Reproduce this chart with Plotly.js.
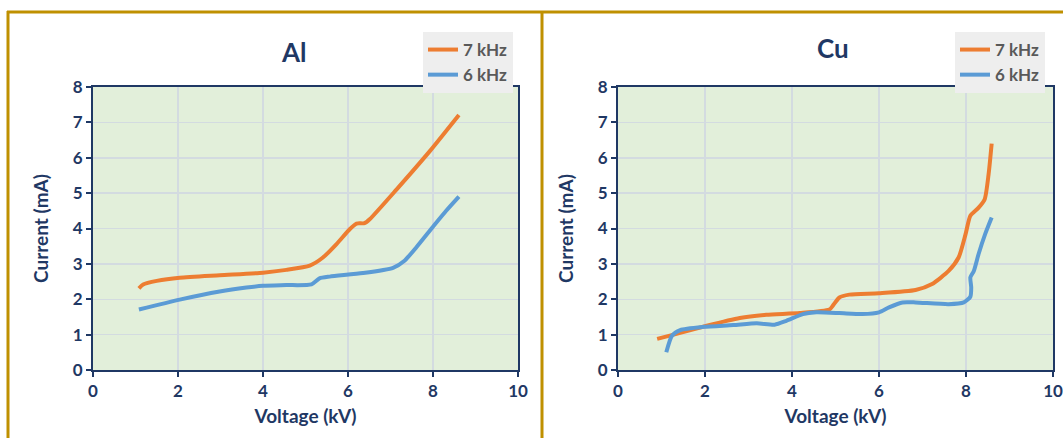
<!DOCTYPE html>
<html>
<head>
<meta charset="utf-8">
<script src="https://cdn.plot.ly/plotly-3.0.1.min.js"></script>
<style>html,body{margin:0;padding:0;background:#fff;}#chart{width:1063px;height:438px;}</style>
</head>
<body>
<div id="chart"></div>
<script>
// Al panel data
const al7_x = [1.08, 1.18, 1.5, 2.04, 2.98, 4.0, 4.55, 5.10, 5.41, 5.73, 6.04, 6.2, 6.39, 6.51, 7.14, 7.92, 8.61];
const al7_y = [2.31, 2.42, 2.52, 2.61, 2.68, 2.75, 2.83, 2.95, 3.18, 3.56, 3.98, 4.14, 4.15, 4.26, 5.10, 6.18, 7.21];
const al6_x = [1.08, 2.04, 2.98, 3.61, 4.0, 4.55, 5.14, 5.33, 5.57, 6.35, 7.06, 7.33, 7.61, 8.0, 8.31, 8.61];
const al6_y = [1.71, 1.99, 2.22, 2.33, 2.38, 2.40, 2.42, 2.59, 2.64, 2.74, 2.89, 3.09, 3.47, 4.05, 4.50, 4.90];
// Cu panel data
const cu7_x = [0.90, 1.28, 2.04, 2.80, 3.41, 4.18, 4.86, 4.94, 5.09, 5.32, 6.0, 6.84, 7.22, 7.60, 7.83, 7.99, 8.10, 8.29, 8.43, 8.52, 8.59];
const cu7_y = [0.88, 1.0, 1.25, 1.47, 1.56, 1.61, 1.71, 1.82, 2.05, 2.13, 2.17, 2.26, 2.43, 2.80, 3.18, 3.84, 4.36, 4.59, 4.83, 5.54, 6.40];
const cu6_x = [1.11, 1.24, 1.43, 1.97, 2.65, 3.19, 3.60, 3.87, 4.25, 4.56, 5.09, 5.62, 6.0, 6.23, 6.54, 6.84, 7.60, 7.95, 8.10, 8.12, 8.10, 8.18, 8.29, 8.44, 8.59];
const cu6_y = [0.50, 0.97, 1.13, 1.22, 1.27, 1.32, 1.28, 1.39, 1.58, 1.63, 1.61, 1.58, 1.63, 1.77, 1.91, 1.91, 1.86, 1.91, 2.07, 2.33, 2.62, 2.80, 3.28, 3.84, 4.31];

const seriesNames = ['7 kHz', '6 kHz'];
const panelTitles = ['Al', 'Cu'];
const xTitle = 'Voltage (kV)';
const yTitle = 'Current (mA)';

const ORANGE = '#ED7D31', BLUE = '#5B9BD5', NAVY = '#1F3864', GOLD = '#BF9000';
const FONT = 'Lato, "Open Sans", sans-serif';
const W = 1063, H = 438;
const px = v => v / W, py = v => 1 - v / H;

function line(x, y, name, color, xa, ya, leg) {
  return {x: x, y: y, name: name, type: 'scatter', mode: 'lines', xaxis: xa, yaxis: ya, legend: leg,
    line: {color: color, width: 4, shape: 'spline', smoothing: 0.6}, hoverinfo: 'skip'};
}

const data = [
  line(al7_x, al7_y, seriesNames[0], ORANGE, 'x', 'y', 'legend'),
  line(al6_x, al6_y, seriesNames[1], BLUE, 'x', 'y', 'legend'),
  line(cu7_x, cu7_y, seriesNames[0], ORANGE, 'x2', 'y2', 'legend2'),
  line(cu6_x, cu6_y, seriesNames[1], BLUE, 'x2', 'y2', 'legend2')
];

function xax(domain, anchor) {
  return {domain: domain, anchor: anchor, range: [0, 10], dtick: 2, tick0: 0,
    showline: true, linecolor: NAVY, linewidth: 2, mirror: true,
    ticks: 'outside', ticklen: 5, tickcolor: NAVY, tickwidth: 2,
    showgrid: true, gridcolor: '#d3dbe0', gridwidth: 1.5, zeroline: false,
    tickfont: {family: FONT, size: 17, color: NAVY, weight: 'bold'},
    title: {text: xTitle, font: {family: FONT, size: 19, color: NAVY, weight: 'bold'}, standoff: 9}};
}
function yax(domain, anchor) {
  return {domain: domain, anchor: anchor, range: [0, 8], dtick: 1, tick0: 0,
    showline: true, linecolor: NAVY, linewidth: 2, mirror: true,
    ticks: 'outside', ticklen: 5, tickcolor: NAVY, tickwidth: 2,
    showgrid: true, gridcolor: '#d3dbe0', gridwidth: 1.5, zeroline: false,
    tickfont: {family: FONT, size: 17, color: NAVY, weight: 'bold'},
    title: {text: yTitle, font: {family: FONT, size: 19, color: NAVY, weight: 'bold'}, standoff: 19}};
}

const yDom = [py(370), py(87)];
const legendCommon = {bgcolor: '#eeeeee', borderwidth: 0, xanchor: 'left', yanchor: 'top',
  font: {family: FONT, size: 17, color: '#595959', weight: 'bold'}, traceorder: 'normal',
  itemwidth: 30, tracegroupgap: 0};

const layout = {
  width: W, height: H, margin: {l: 0, r: 0, t: 0, b: 0},
  paper_bgcolor: '#ffffff', plot_bgcolor: '#E2EFDA', showlegend: true,
  xaxis: xax([px(93), px(518)], 'y'),
  yaxis: yax(yDom, 'x'),
  xaxis2: xax([px(618), px(1053)], 'y2'),
  yaxis2: yax(yDom, 'x2'),
  legend: Object.assign({x: px(423), y: py(32)}, legendCommon),
  legend2: Object.assign({x: px(955), y: py(32)}, legendCommon),
  annotations: [
    {text: panelTitles[0], xref: 'paper', yref: 'paper', x: px(294), y: py(52), showarrow: false,
      font: {family: FONT, size: 26, color: NAVY, weight: 'bold'}, xanchor: 'center', yanchor: 'middle'},
    {text: panelTitles[1], xref: 'paper', yref: 'paper', x: px(833), y: py(48), showarrow: false,
      font: {family: FONT, size: 26, color: NAVY, weight: 'bold'}, xanchor: 'center', yanchor: 'middle'}
  ],
  shapes: [
    {type: 'line', xref: 'paper', yref: 'paper', x0: px(7), x1: 1.01, y0: py(12), y1: py(12), line: {color: GOLD, width: 3}},
    {type: 'line', xref: 'paper', yref: 'paper', x0: px(8), x1: px(8), y0: py(11), y1: -0.05, line: {color: GOLD, width: 3}},
    {type: 'line', xref: 'paper', yref: 'paper', x0: px(542), x1: px(542), y0: py(11), y1: -0.05, line: {color: GOLD, width: 3}}
  ]
};

Plotly.newPlot('chart', data, layout, {staticPlot: true, displayModeBar: false});
</script>
</body>
</html>
